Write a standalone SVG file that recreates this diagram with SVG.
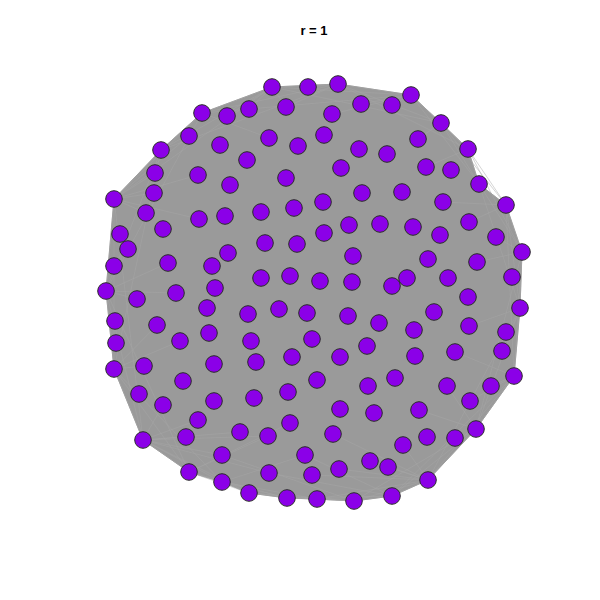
<svg xmlns="http://www.w3.org/2000/svg" width="600" height="600" viewBox="0 0 600 600">
<style>
.t{font-family:"Liberation Sans",Arial,sans-serif;font-weight:bold;font-size:13px;fill:#000}
.blob{fill:#9a9a9a;stroke:#9a9a9a;stroke-width:1}
.edge{fill:none;stroke:#a6a6a6;stroke-width:0.6;stroke-opacity:0.8}
.n circle{fill:#8B00E8;stroke:#2a2a2a;stroke-width:1}
</style>
<rect width="600" height="600" fill="#fff"/>
<text class="t" x="314" y="35" text-anchor="middle">r = 1</text>
<g id="edges">
<polygon class="blob" points="272,87 338,84 411,95 441,123 468,149 479,184 506,205 522,252 520,308 514,376 476,429 428,480 392,496 354,501 317,499 287,498 249,493 222,482 189,472 143,440 114,369 106,291 114,199 161,150 202,113"/>
<path class="edge" d="M272,87L338,84L411,95L441,123L468,149L479,184L506,205L522,252L520,308L514,376L476,429L428,480L392,496L354,501L317,499L287,498L249,493L222,482L189,472L143,440L114,369L106,291L114,199L161,150L202,113Z
M272,87L411,95M338,84L441,123M411,95L468,149M441,123L479,184M468,149L506,205M479,184L522,252M506,205L520,308M522,252L514,376M520,308L476,429M514,376L428,480M476,429L392,496M428,480L354,501M392,496L317,499M354,501L287,498M317,499L249,493M287,498L222,482M249,493L189,472M222,482L143,440M189,472L114,369M143,440L106,291M114,369L114,199M106,291L161,150M114,199L202,113M161,150L272,87M202,113L338,84
M272,87L441,123M338,84L468,149M411,95L479,184M441,123L506,205M468,149L522,252M479,184L520,308M506,205L514,376M522,252L476,429M520,308L428,480M514,376L392,496M476,429L354,501M428,480L317,499M392,496L287,498M354,501L249,493M317,499L222,482M287,498L189,472M249,493L143,440M222,482L114,369M189,472L106,291M143,440L114,199M114,369L161,150M106,291L202,113M114,199L272,87M161,150L338,84M202,113L411,95
M143,440L186,437M143,440L198,420M143,440L240,432M143,440L222,455M143,440L163,405M143,440L268,436M143,440L269,473M189,472L268,436M189,472L290,423M222,482L305,455M428,480L388,467M428,480L370,461M428,480L403,445M428,480L339,469M428,480L312,475M428,480L333,434M392,496L305,455M392,496L269,473M354,501L222,455M114,199L154,193M114,199L146,213M114,199L155,173M114,199L198,175M114,199L199,219M114,199L189,136M106,291L137,299M106,291L176,293M106,291L168,263M114,369L144,366M114,369L180,341M114,369L157,325M411,95L392,105M411,95L361,104M411,95L332,114M272,87L249,109M272,87L227,116M272,87L286,107M338,84L308,87M338,84L286,107M202,113L269,138M514,376L491,386M514,376L470,401M514,376L455,352M476,429L447,386M476,429L419,410M522,252L496,237M522,252L477,262M506,205L469,222M506,205L443,202M520,308L502,351M520,308L469,326M468,149L426,167M441,123L418,139"/>
</g>
<g id="n1" class="n"><circle cx="272" cy="87" r="8.3"/></g>
<g id="n2" class="n"><circle cx="308" cy="87" r="8.3"/></g>
<g id="n3" class="n"><circle cx="338" cy="84" r="8.3"/></g>
<g id="n4" class="n"><circle cx="411" cy="95" r="8.3"/></g>
<g id="n5" class="n"><circle cx="202" cy="113" r="8.3"/></g>
<g id="n6" class="n"><circle cx="227" cy="116" r="8.3"/></g>
<g id="n7" class="n"><circle cx="249" cy="109" r="8.3"/></g>
<g id="n8" class="n"><circle cx="286" cy="107" r="8.3"/></g>
<g id="n9" class="n"><circle cx="332" cy="114" r="8.3"/></g>
<g id="n10" class="n"><circle cx="361" cy="104" r="8.3"/></g>
<g id="n11" class="n"><circle cx="392" cy="105" r="8.3"/></g>
<g id="n12" class="n"><circle cx="189" cy="136" r="8.3"/></g>
<g id="n13" class="n"><circle cx="269" cy="138" r="8.3"/></g>
<g id="n14" class="n"><circle cx="324" cy="135" r="8.3"/></g>
<g id="n15" class="n"><circle cx="441" cy="123" r="8.3"/></g>
<g id="n16" class="n"><circle cx="161" cy="150" r="8.3"/></g>
<g id="n17" class="n"><circle cx="220" cy="145" r="8.3"/></g>
<g id="n18" class="n"><circle cx="298" cy="146" r="8.3"/></g>
<g id="n19" class="n"><circle cx="359" cy="149" r="8.3"/></g>
<g id="n20" class="n"><circle cx="387" cy="154" r="8.3"/></g>
<g id="n21" class="n"><circle cx="418" cy="139" r="8.3"/></g>
<g id="n22" class="n"><circle cx="468" cy="149" r="8.3"/></g>
<g id="n23" class="n"><circle cx="155" cy="173" r="8.3"/></g>
<g id="n24" class="n"><circle cx="247" cy="160" r="8.3"/></g>
<g id="n25" class="n"><circle cx="341" cy="168" r="8.3"/></g>
<g id="n26" class="n"><circle cx="426" cy="167" r="8.3"/></g>
<g id="n27" class="n"><circle cx="451" cy="170" r="8.3"/></g>
<g id="n28" class="n"><circle cx="198" cy="175" r="8.3"/></g>
<g id="n29" class="n"><circle cx="286" cy="178" r="8.3"/></g>
<g id="n30" class="n"><circle cx="479" cy="184" r="8.3"/></g>
<g id="n31" class="n"><circle cx="114" cy="199" r="8.3"/></g>
<g id="n32" class="n"><circle cx="154" cy="193" r="8.3"/></g>
<g id="n33" class="n"><circle cx="230" cy="185" r="8.3"/></g>
<g id="n34" class="n"><circle cx="362" cy="193" r="8.3"/></g>
<g id="n35" class="n"><circle cx="402" cy="192" r="8.3"/></g>
<g id="n36" class="n"><circle cx="443" cy="202" r="8.3"/></g>
<g id="n37" class="n"><circle cx="506" cy="205" r="8.3"/></g>
<g id="n38" class="n"><circle cx="146" cy="213" r="8.3"/></g>
<g id="n39" class="n"><circle cx="199" cy="219" r="8.3"/></g>
<g id="n40" class="n"><circle cx="225" cy="216" r="8.3"/></g>
<g id="n41" class="n"><circle cx="261" cy="212" r="8.3"/></g>
<g id="n42" class="n"><circle cx="294" cy="208" r="8.3"/></g>
<g id="n43" class="n"><circle cx="323" cy="202" r="8.3"/></g>
<g id="n44" class="n"><circle cx="120" cy="234" r="8.3"/></g>
<g id="n45" class="n"><circle cx="163" cy="229" r="8.3"/></g>
<g id="n46" class="n"><circle cx="349" cy="225" r="8.3"/></g>
<g id="n47" class="n"><circle cx="380" cy="224" r="8.3"/></g>
<g id="n48" class="n"><circle cx="413" cy="227" r="8.3"/></g>
<g id="n49" class="n"><circle cx="469" cy="222" r="8.3"/></g>
<g id="n50" class="n"><circle cx="128" cy="249" r="8.3"/></g>
<g id="n51" class="n"><circle cx="265" cy="243" r="8.3"/></g>
<g id="n52" class="n"><circle cx="297" cy="244" r="8.3"/></g>
<g id="n53" class="n"><circle cx="324" cy="233" r="8.3"/></g>
<g id="n54" class="n"><circle cx="440" cy="235" r="8.3"/></g>
<g id="n55" class="n"><circle cx="496" cy="237" r="8.3"/></g>
<g id="n56" class="n"><circle cx="114" cy="266" r="8.3"/></g>
<g id="n57" class="n"><circle cx="168" cy="263" r="8.3"/></g>
<g id="n58" class="n"><circle cx="212" cy="266" r="8.3"/></g>
<g id="n59" class="n"><circle cx="228" cy="253" r="8.3"/></g>
<g id="n60" class="n"><circle cx="353" cy="256" r="8.3"/></g>
<g id="n61" class="n"><circle cx="428" cy="259" r="8.3"/></g>
<g id="n62" class="n"><circle cx="477" cy="262" r="8.3"/></g>
<g id="n63" class="n"><circle cx="522" cy="252" r="8.3"/></g>
<g id="n64" class="n"><circle cx="106" cy="291" r="8.3"/></g>
<g id="n65" class="n"><circle cx="261" cy="278" r="8.3"/></g>
<g id="n66" class="n"><circle cx="290" cy="276" r="8.3"/></g>
<g id="n67" class="n"><circle cx="320" cy="281" r="8.3"/></g>
<g id="n68" class="n"><circle cx="352" cy="282" r="8.3"/></g>
<g id="n69" class="n"><circle cx="392" cy="286" r="8.3"/></g>
<g id="n70" class="n"><circle cx="407" cy="278" r="8.3"/></g>
<g id="n71" class="n"><circle cx="448" cy="278" r="8.3"/></g>
<g id="n72" class="n"><circle cx="512" cy="277" r="8.3"/></g>
<g id="n73" class="n"><circle cx="137" cy="299" r="8.3"/></g>
<g id="n74" class="n"><circle cx="176" cy="293" r="8.3"/></g>
<g id="n75" class="n"><circle cx="215" cy="288" r="8.3"/></g>
<g id="n76" class="n"><circle cx="468" cy="297" r="8.3"/></g>
<g id="n77" class="n"><circle cx="207" cy="308" r="8.3"/></g>
<g id="n78" class="n"><circle cx="279" cy="309" r="8.3"/></g>
<g id="n79" class="n"><circle cx="307" cy="313" r="8.3"/></g>
<g id="n80" class="n"><circle cx="434" cy="312" r="8.3"/></g>
<g id="n81" class="n"><circle cx="520" cy="308" r="8.3"/></g>
<g id="n82" class="n"><circle cx="115" cy="321" r="8.3"/></g>
<g id="n83" class="n"><circle cx="157" cy="325" r="8.3"/></g>
<g id="n84" class="n"><circle cx="248" cy="314" r="8.3"/></g>
<g id="n85" class="n"><circle cx="348" cy="316" r="8.3"/></g>
<g id="n86" class="n"><circle cx="379" cy="323" r="8.3"/></g>
<g id="n87" class="n"><circle cx="414" cy="330" r="8.3"/></g>
<g id="n88" class="n"><circle cx="469" cy="326" r="8.3"/></g>
<g id="n89" class="n"><circle cx="116" cy="343" r="8.3"/></g>
<g id="n90" class="n"><circle cx="180" cy="341" r="8.3"/></g>
<g id="n91" class="n"><circle cx="209" cy="333" r="8.3"/></g>
<g id="n92" class="n"><circle cx="251" cy="341" r="8.3"/></g>
<g id="n93" class="n"><circle cx="312" cy="339" r="8.3"/></g>
<g id="n94" class="n"><circle cx="367" cy="346" r="8.3"/></g>
<g id="n95" class="n"><circle cx="506" cy="332" r="8.3"/></g>
<g id="n96" class="n"><circle cx="502" cy="351" r="8.3"/></g>
<g id="n97" class="n"><circle cx="114" cy="369" r="8.3"/></g>
<g id="n98" class="n"><circle cx="144" cy="366" r="8.3"/></g>
<g id="n99" class="n"><circle cx="214" cy="364" r="8.3"/></g>
<g id="n100" class="n"><circle cx="256" cy="362" r="8.3"/></g>
<g id="n101" class="n"><circle cx="292" cy="357" r="8.3"/></g>
<g id="n102" class="n"><circle cx="340" cy="357" r="8.3"/></g>
<g id="n103" class="n"><circle cx="415" cy="356" r="8.3"/></g>
<g id="n104" class="n"><circle cx="455" cy="352" r="8.3"/></g>
<g id="n105" class="n"><circle cx="139" cy="394" r="8.3"/></g>
<g id="n106" class="n"><circle cx="183" cy="381" r="8.3"/></g>
<g id="n107" class="n"><circle cx="317" cy="380" r="8.3"/></g>
<g id="n108" class="n"><circle cx="368" cy="386" r="8.3"/></g>
<g id="n109" class="n"><circle cx="395" cy="378" r="8.3"/></g>
<g id="n110" class="n"><circle cx="447" cy="386" r="8.3"/></g>
<g id="n111" class="n"><circle cx="491" cy="386" r="8.3"/></g>
<g id="n112" class="n"><circle cx="514" cy="376" r="8.3"/></g>
<g id="n113" class="n"><circle cx="163" cy="405" r="8.3"/></g>
<g id="n114" class="n"><circle cx="214" cy="401" r="8.3"/></g>
<g id="n115" class="n"><circle cx="254" cy="398" r="8.3"/></g>
<g id="n116" class="n"><circle cx="288" cy="392" r="8.3"/></g>
<g id="n117" class="n"><circle cx="340" cy="409" r="8.3"/></g>
<g id="n118" class="n"><circle cx="374" cy="413" r="8.3"/></g>
<g id="n119" class="n"><circle cx="419" cy="410" r="8.3"/></g>
<g id="n120" class="n"><circle cx="470" cy="401" r="8.3"/></g>
<g id="n121" class="n"><circle cx="143" cy="440" r="8.3"/></g>
<g id="n122" class="n"><circle cx="186" cy="437" r="8.3"/></g>
<g id="n123" class="n"><circle cx="198" cy="420" r="8.3"/></g>
<g id="n124" class="n"><circle cx="240" cy="432" r="8.3"/></g>
<g id="n125" class="n"><circle cx="268" cy="436" r="8.3"/></g>
<g id="n126" class="n"><circle cx="290" cy="423" r="8.3"/></g>
<g id="n127" class="n"><circle cx="333" cy="434" r="8.3"/></g>
<g id="n128" class="n"><circle cx="403" cy="445" r="8.3"/></g>
<g id="n129" class="n"><circle cx="427" cy="437" r="8.3"/></g>
<g id="n130" class="n"><circle cx="455" cy="438" r="8.3"/></g>
<g id="n131" class="n"><circle cx="476" cy="429" r="8.3"/></g>
<g id="n132" class="n"><circle cx="222" cy="455" r="8.3"/></g>
<g id="n133" class="n"><circle cx="305" cy="455" r="8.3"/></g>
<g id="n134" class="n"><circle cx="370" cy="461" r="8.3"/></g>
<g id="n135" class="n"><circle cx="388" cy="467" r="8.3"/></g>
<g id="n136" class="n"><circle cx="189" cy="472" r="8.3"/></g>
<g id="n137" class="n"><circle cx="269" cy="473" r="8.3"/></g>
<g id="n138" class="n"><circle cx="312" cy="475" r="8.3"/></g>
<g id="n139" class="n"><circle cx="339" cy="469" r="8.3"/></g>
<g id="n140" class="n"><circle cx="222" cy="482" r="8.3"/></g>
<g id="n141" class="n"><circle cx="428" cy="480" r="8.3"/></g>
<g id="n142" class="n"><circle cx="249" cy="493" r="8.3"/></g>
<g id="n143" class="n"><circle cx="287" cy="498" r="8.3"/></g>
<g id="n144" class="n"><circle cx="317" cy="499" r="8.3"/></g>
<g id="n145" class="n"><circle cx="354" cy="501" r="8.3"/></g>
<g id="n146" class="n"><circle cx="392" cy="496" r="8.3"/></g>
</svg>
